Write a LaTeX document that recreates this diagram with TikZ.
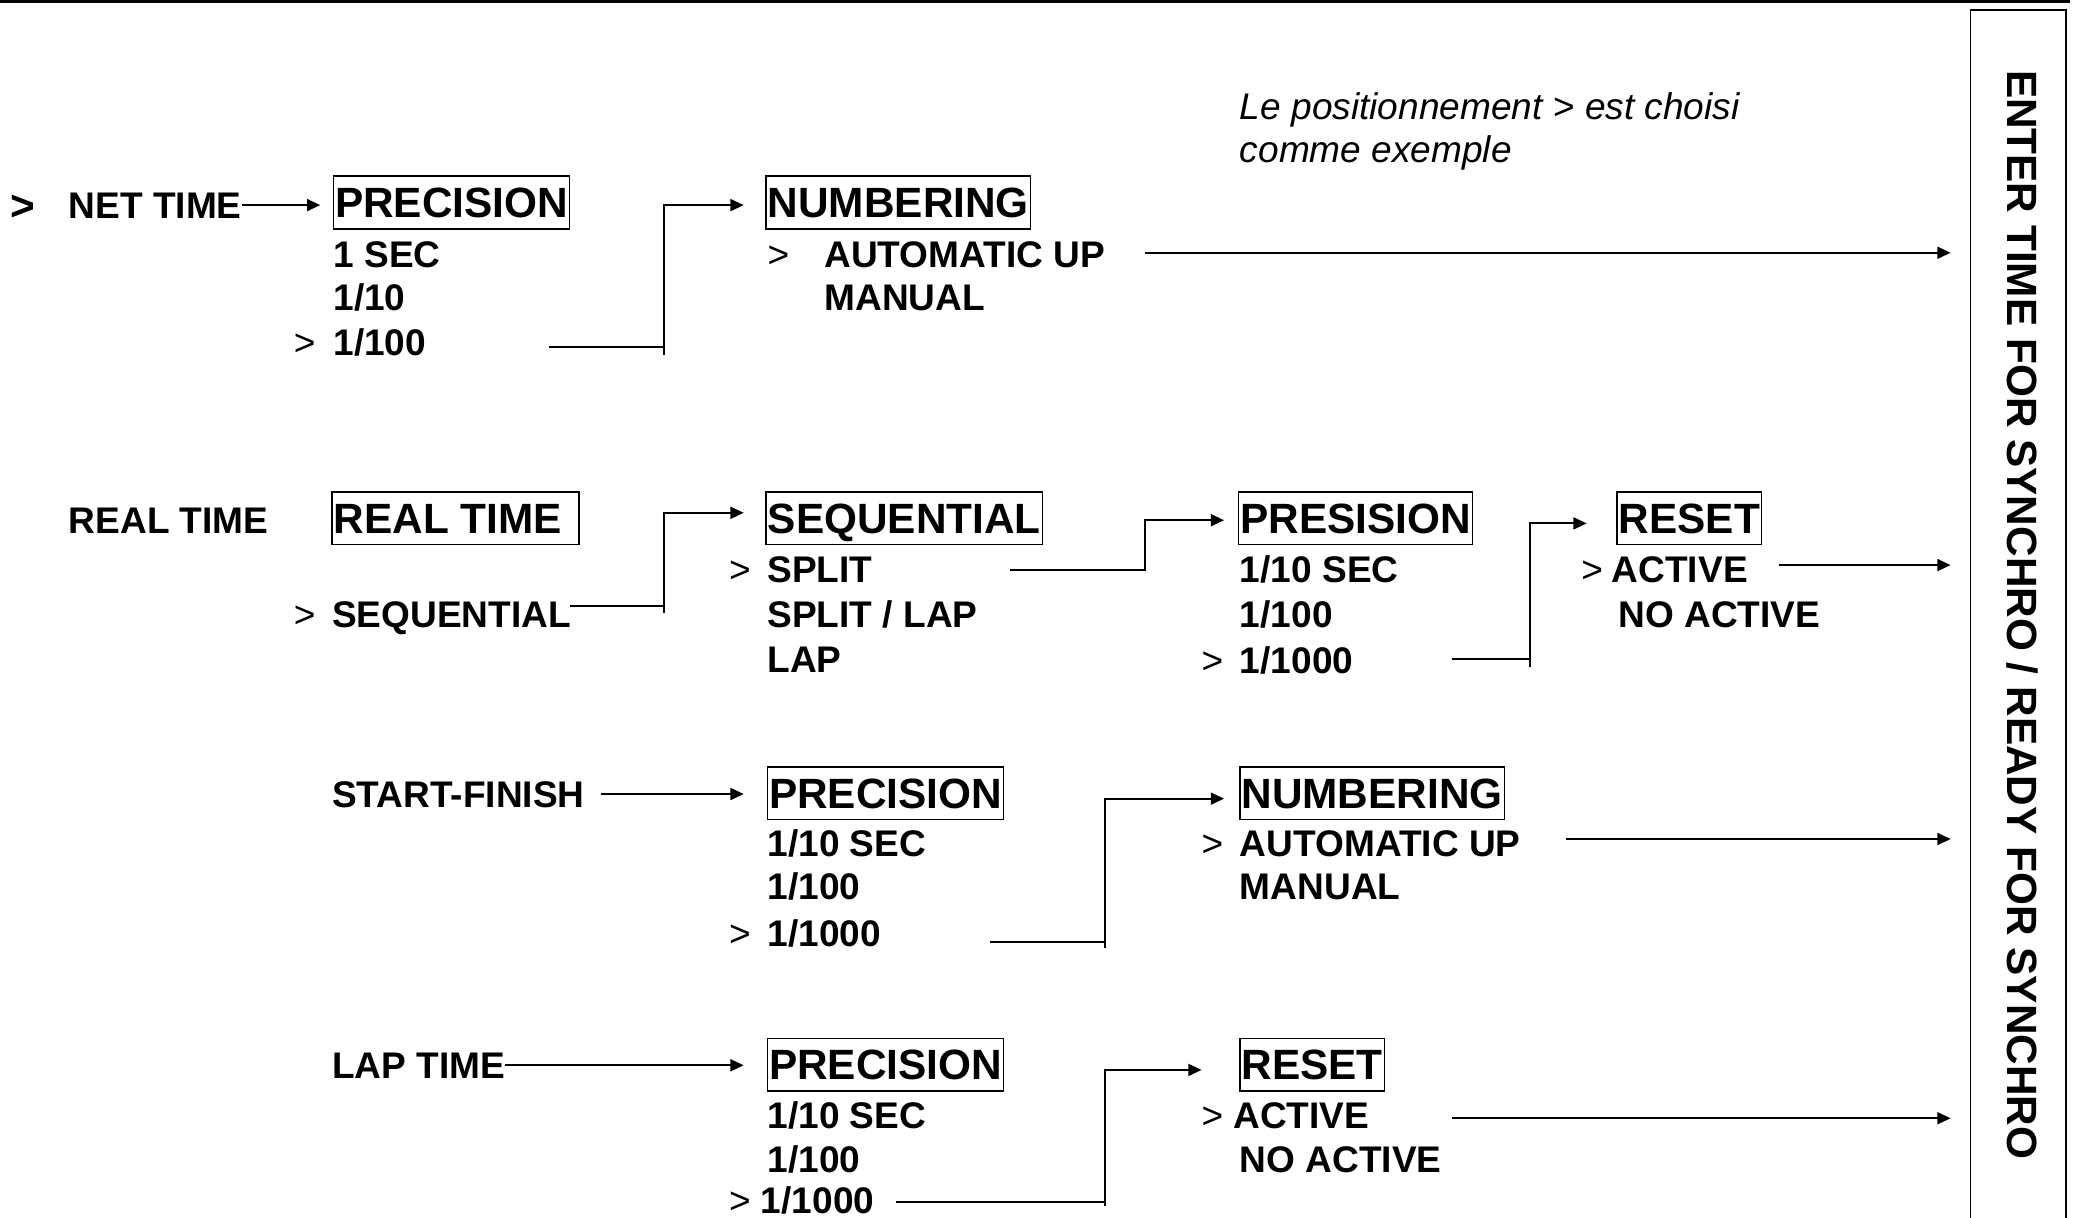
\documentclass[tikz,border=0pt]{standalone}
\usepackage{fontspec}
\setmainfont{Liberation Sans}
\usetikzlibrary{arrows.meta}
\begin{document}
\begin{tikzpicture}[x=0.5pt,y=-0.5pt,
  item/.style={font=\fontsize{14}{16}\selectfont\bfseries, inner sep=0pt, outer sep=0pt, anchor=west, text height=10pt, text depth=0pt},
  sel/.style={font=\fontsize{14}{16}\selectfont, inner sep=0pt, outer sep=0pt, anchor=west, text height=10pt, text depth=0pt},
  bigsel/.style={font=\fontsize{16}{18}\selectfont\bfseries, inner sep=0pt, outer sep=0pt, anchor=west, text height=11.5pt, text depth=0pt},
  head/.style={draw, line width=0.6pt, font=\fontsize{16}{18}\selectfont\bfseries, inner xsep=0.6pt, inner ysep=4.2pt, outer sep=0pt, anchor=west, text height=11.5pt, text depth=0pt},
  notetext/.style={font=\fontsize{14}{16}\selectfont\itshape, inner sep=0pt, outer sep=0pt, anchor=west, text height=10pt, text depth=0pt},
  arr/.style={line width=0.7pt, -{Triangle[length=5pt,width=4.5pt]}},
  ln/.style={line width=0.7pt}
]
\path[use as bounding box] (0,0) rectangle (1568,920);

% frame on the right and top rule
\draw[line width=1.1pt] (0,1.3) -- (1564,1.3);
\draw[line width=0.6pt] (1489,925) -- (1489,7.5) -- (1561,7.5) -- (1561,925);
\coordinate (frame) at (1489,0);
\node[font=\fontsize{16}{18}\selectfont\bfseries, rotate=-90, inner sep=0pt] (sync) at (1528,464.5) {ENTER TIME FOR SYNCHRO / READY FOR SYNCHRO};

% note
\node[notetext] (note1) at (937,80) {Le positionnement {\upshape>} est choisi};
\node[notetext] (note2) at (937,113) {comme exemple};

% ---------- row 1 : NET TIME
\node[bigsel] (gt0) at (8,155) {>};
\node[item] (net) at (52,155) {NET TIME};
\node[head] (p1) at (252,153) {PRECISION};
\node[item] (p1a) at (252,192) {1 SEC};
\node[item] (p1b) at (252,225) {1/10};
\node[sel]  (p1s) at (222,259) {>};
\node[item] (p1c) at (252,259) {1/100};
\node[head] (n1) at (579,153) {NUMBERING};
\node[sel]  (n1s) at (580,192) {>};
\node[item] (n1a) at (623,192) {AUTOMATIC UP};
\node[item] (n1b) at (623,225) {MANUAL};

\draw[arr, shorten >=5pt] (net.east) -- (p1.west |- net.east);
\coordinate (c1) at (415,262);
\coordinate (k1) at (502,0);
\draw[arr, shorten >=8.5pt] (c1) -- (c1 -| k1) |- ([yshift=-1pt]n1.west);
\draw[ln] (c1 -| k1) -- ++(0,6);
\coordinate (c2) at (865,191);
\draw[arr, shorten >=7.5pt] (c2) -- (c2 -| frame);

% ---------- row 2 : REAL TIME
\node[item] (rt) at (52,393) {REAL TIME};
\node[head] (h2) at (251,391.5) {REAL TIME\hspace*{5.8pt}};
\node[sel]  (s2s) at (222,464) {>};
\node[item] (s2) at (251,464) {SEQUENTIAL};
\node[head] (q2) at (579,391.5) {SEQUENTIAL};
\node[sel]  (q2s) at (551,430) {>};
\node[item] (q2a) at (580,430) {SPLIT};
\node[item] (q2b) at (580,464) {SPLIT / LAP};
\node[item] (q2c) at (580,498) {LAP};
\node[head] (r2) at (936,391.5) {PRESISION};
\node[item] (r2a) at (937,430) {1/10 SEC};
\node[item] (r2b) at (937,464) {1/100};
\node[sel]  (r2s) at (908,499) {>};
\node[item] (r2c) at (937,499) {1/1000};
\node[head] (e2) at (1222,391.5) {RESET};
\node[sel]  (e2s) at (1195,430) {>};
\node[item] (e2a) at (1218,430) {ACTIVE};
\node[item] (e2b) at (1223,464) {NO ACTIVE};

\coordinate (c3) at (431,458);
\coordinate (k2) at (502,0);
\draw[arr, shorten >=8.5pt] (c3) -- (c3 -| k2) |- ([yshift=2pt]q2.west);
\draw[ln] (c3 -| k2) -- ++(0,5);
\coordinate (c4) at (763,431);
\coordinate (k3) at (865,0);
\draw[arr, shorten >=5.5pt] (c4) -- (c4 -| k3) |- ([yshift=-0.8pt]r2.west);
\coordinate (c5) at (1097,498);
\coordinate (k4) at (1156,0);
\draw[arr, shorten >=11.5pt] (c5) -- (c5 -| k4) |- ([yshift=-2pt]e2.west);
\draw[ln] (c5 -| k4) -- ++(0,6);
\coordinate (c6) at (1344,427);
\draw[arr, shorten >=7.5pt] (c6) -- (c6 -| frame);

% ---------- row 3 : START-FINISH
\node[item] (sf) at (251,600) {START-FINISH};
\node[head] (p3) at (580,599.5) {PRECISION};
\node[item] (p3a) at (580,637) {1/10 SEC};
\node[item] (p3b) at (580,670) {1/100};
\node[sel]  (p3s) at (551,705) {>};
\node[item] (p3c) at (580,705) {1/1000};
\node[head] (n3) at (937,599.5) {NUMBERING};
\node[sel]  (n3s) at (908,637) {>};
\node[item] (n3a) at (937,637) {AUTOMATIC UP};
\node[item] (n3b) at (937,670) {MANUAL};

\draw[arr, shorten <=6pt, shorten >=9pt] (sf.east) -- (p3.west |- sf.east);
\coordinate (c7) at (748,712);
\coordinate (k5) at (835,0);
\draw[arr, shorten >=6pt] (c7) -- (c7 -| k5) |- ([yshift=-2pt]n3.west);
\draw[ln] (c7 -| k5) -- ++(0,4);
\coordinate (c8) at (1183,634);
\draw[arr, shorten >=7.5pt] (c8) -- (c8 -| frame);

% ---------- row 4 : LAP TIME
\node[item] (lt) at (251,805) {LAP TIME};
\node[head] (p4) at (580,804.5) {PRECISION};
\node[item] (p4a) at (580,843) {1/10 SEC};
\node[item] (p4b) at (580,876) {1/100};
\node[sel]  (p4s) at (551,907) {>};
\node[item] (p4c) at (575,907) {1/1000};
\node[head] (e4) at (937,804.5) {RESET};
\node[sel]  (e4s) at (908,843) {>};
\node[item] (e4a) at (932,843) {ACTIVE};
\node[item] (e4b) at (937,876) {NO ACTIVE};

\draw[arr, shorten >=9pt] (lt.east) -- (p4.west |- lt.east);
\coordinate (c9) at (677,908);
\coordinate (k6) at (835,0);
\draw[arr, shorten >=14.5pt] (c9) -- (c9 -| k6) |- ([yshift=-2pt]e4.west);
\draw[ln] (c9 -| k6) -- ++(0,3);
\coordinate (c10) at (1097,845);
\draw[arr, shorten >=7.5pt] (c10) -- (c10 -| frame);
\end{tikzpicture}
\end{document}
